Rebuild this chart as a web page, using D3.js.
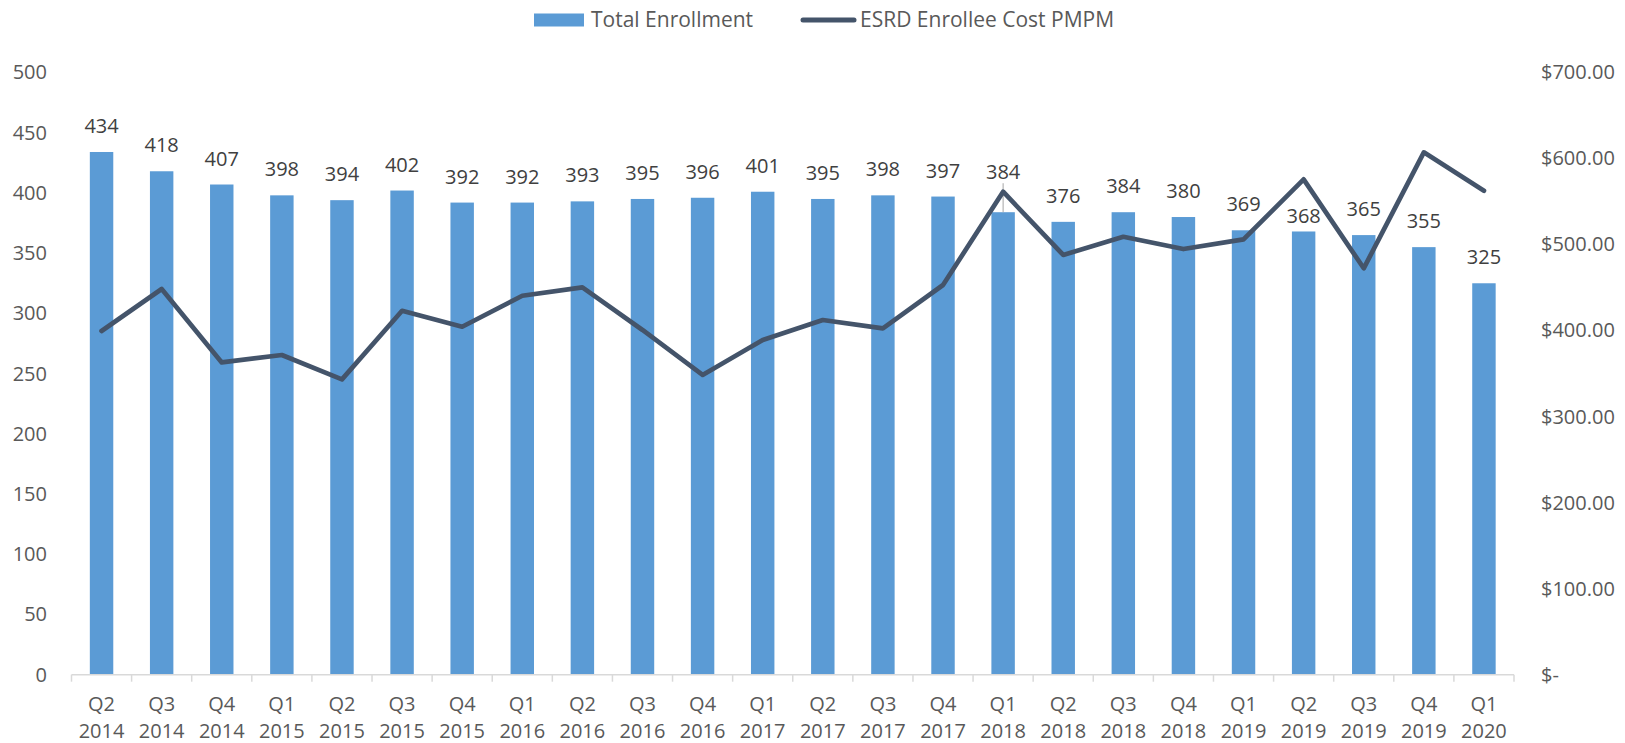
<!DOCTYPE html>
<html>
<head>
<meta charset="utf-8">
<script src="https://cdn.jsdelivr.net/npm/d3@7"></script>
<style>
  html, body { margin: 0; padding: 0; background: #ffffff; }
  svg { display: block; font-family: "Open Sans", sans-serif; }
</style>
</head>
<body>
<svg id="chart" width="1625" height="743"></svg>
<script>
// ---- data ----
const categories = [
  "Q2 2014","Q3 2014","Q4 2014","Q1 2015","Q2 2015","Q3 2015","Q4 2015","Q1 2016",
  "Q2 2016","Q3 2016","Q4 2016","Q1 2017","Q2 2017","Q3 2017","Q4 2017","Q1 2018",
  "Q2 2018","Q3 2018","Q4 2018","Q1 2019","Q2 2019","Q3 2019","Q4 2019","Q1 2020"
];
const totalEnrollment = [434,418,407,398,394,402,392,392,393,395,396,401,395,398,397,384,376,384,380,369,368,365,355,325];
const esrdCostPMPM = [399.5,448.3,363.0,371.6,343.3,423.0,404.5,440.5,450.3,400.7,348.4,389.0,412.3,402.6,453.0,561.4,487.9,509.1,494.8,506.0,575.8,472.4,607.2,562.6];
const leftTicks = [0,50,100,150,200,250,300,350,400,450,500];
const rightTicks = [0,100,200,300,400,500,600,700];
const seriesNames = ["Total Enrollment", "ESRD Enrollee Cost PMPM"];

// ---- layout / style ----
const barColor = "#5B9BD5";
const lineColor = "#44546A";
const axisTextColor = "#595959";
const labelColor = "#404040";
const fontSize = 20;
const legendFontSize = 21;
const plotTop = 72.5, plotBottom = 674.7, plotLeft = 71.5, plotRight = 1514;
// label offsets (px above bar top), with manual nudges for two labels
const labelOffsetDefault = 26;
const labelNudge = {15: 40, 20: 15};
const leaderIndex = 15;

const svg = d3.select("#chart");

const x = d3.scaleBand().domain(categories).range([plotLeft, plotRight])
  .paddingInner(0.61).paddingOuter(0.305);
const step = x.step();
const yL = d3.scaleLinear().domain([0, 500]).range([plotBottom, plotTop]);
const yR = d3.scaleLinear().domain([0, 700]).range([plotBottom, plotTop]);

// bars
svg.append("g").selectAll("rect").data(totalEnrollment).join("rect")
  .attr("x", (d, i) => x(categories[i]))
  .attr("y", d => yL(d))
  .attr("width", x.bandwidth())
  .attr("height", d => yL(0) - yL(d))
  .attr("fill", barColor);

// leader line for moved label
{
  const i = leaderIndex;
  const cx = x(categories[i]) + x.bandwidth() / 2;
  const top = yL(totalEnrollment[i]);
  svg.append("line")
    .attr("x1", cx).attr("x2", cx)
    .attr("y1", top - labelNudge[i] + 11).attr("y2", top)
    .attr("stroke", "#A6A6A6").attr("stroke-width", 1);
}

// x axis line
svg.append("line")
  .attr("x1", plotLeft).attr("x2", plotRight)
  .attr("y1", plotBottom).attr("y2", plotBottom)
  .attr("stroke", "#D9D9D9").attr("stroke-width", 1.5);

// x ticks at category boundaries
const boundaries = categories.map(c => x(c) - (step - x.bandwidth()) / 2);
boundaries.push(boundaries[boundaries.length - 1] + step);
svg.append("g").selectAll("line").data(boundaries).join("line")
  .attr("x1", d => d).attr("x2", d => d)
  .attr("y1", plotBottom).attr("y2", plotBottom + 7)
  .attr("stroke", "#D9D9D9").attr("stroke-width", 1.5);

// x tick labels (two lines)
const xl = svg.append("g").attr("fill", axisTextColor).attr("font-size", fontSize)
  .attr("text-anchor", "middle");
categories.forEach(c => {
  const parts = c.split(" ");
  const cx = x(c) + x.bandwidth() / 2;
  const t = xl.append("text").attr("x", cx).attr("y", 711);
  t.append("tspan").attr("x", cx).text(parts[0]);
  t.append("tspan").attr("x", cx).attr("dy", 27).text(parts[1]);
});

// left axis
const axL = d3.axisLeft(yL).tickValues(leftTicks).tickSize(0).tickPadding(24.5);
const gL = svg.append("g").attr("transform", `translate(${plotLeft},0)`).call(axL);
gL.select(".domain").remove();
gL.selectAll("text").attr("fill", axisTextColor).attr("font-size", fontSize)
  .attr("font-family", "Open Sans, sans-serif");

// right axis
const fmt = d3.format(",.2f");
const axR = d3.axisRight(yR).tickValues(rightTicks).tickSize(0).tickPadding(27)
  .tickFormat(d => d === 0 ? "$-" : "$" + fmt(d));
const gR = svg.append("g").attr("transform", `translate(${plotRight},0)`).call(axR);
gR.select(".domain").remove();
gR.selectAll("text").attr("fill", axisTextColor).attr("font-size", fontSize)
  .attr("font-family", "Open Sans, sans-serif");

// line
const line = d3.line()
  .x((d, i) => x(categories[i]) + x.bandwidth() / 2)
  .y(d => yR(d));
svg.append("path").datum(esrdCostPMPM)
  .attr("d", line)
  .attr("fill", "none")
  .attr("stroke", lineColor)
  .attr("stroke-width", 4.7)
  .attr("stroke-linejoin", "round")
  .attr("stroke-linecap", "round");

// data labels
svg.append("g").attr("fill", labelColor).attr("font-size", fontSize).attr("text-anchor", "middle")
  .selectAll("text").data(totalEnrollment).join("text")
  .attr("x", (d, i) => x(categories[i]) + x.bandwidth() / 2)
  .attr("y", (d, i) => yL(d) - (labelNudge[i] !== undefined ? labelNudge[i] : labelOffsetDefault))
  .attr("dy", "0.35em")
  .text(d => d);

// legend
const lg = svg.append("g").attr("font-size", legendFontSize).attr("fill", axisTextColor);
lg.append("rect").attr("x", 534).attr("y", 13.5).attr("width", 50).attr("height", 13).attr("fill", barColor);
lg.append("text").attr("x", 591).attr("y", 20).attr("dy", "0.35em").text(seriesNames[0]);
lg.append("line").attr("x1", 803).attr("x2", 854).attr("y1", 20).attr("y2", 20)
  .attr("stroke", lineColor).attr("stroke-width", 5).attr("stroke-linecap", "round");
lg.append("text").attr("x", 860).attr("y", 20).attr("dy", "0.35em").text(seriesNames[1]);
</script>
</body>
</html>
